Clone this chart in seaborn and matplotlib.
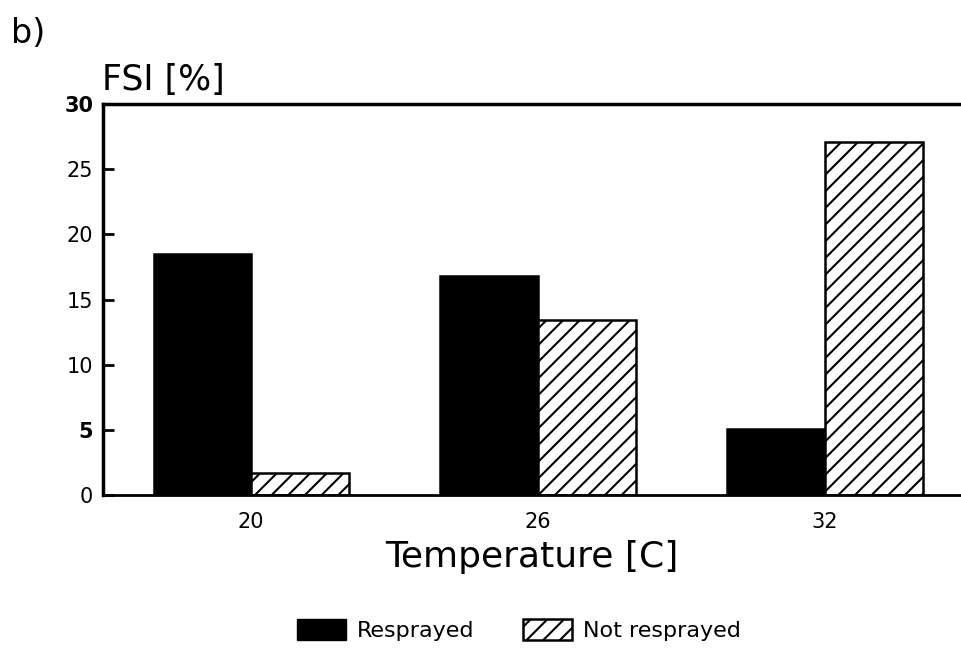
import matplotlib as mpl
mpl.use('agg')
import matplotlib.pyplot as plt
from matplotlib.patches import Patch
import numpy as np
import pandas as pd
import seaborn as sns

# Values
temperatures = ['20', '26', '32']
resprayed = [18.5, 16.8, 5.1]
not_resprayed = [1.7, 13.4, 27.1]
series = ['Resprayed', 'Not resprayed']
y_ticks = [0, 5, 10, 15, 20, 25, 30]

df = pd.DataFrame({
    'Temperature': temperatures * 2,
    'FSI': resprayed + not_resprayed,
    'Treatment': [series[0]] * 3 + [series[1]] * 3,
})

sns.set_style("ticks")
plt.rcParams['font.family'] = ['DejaVu Sans']
plt.rcParams['hatch.linewidth'] = 1.5
plt.rcParams['hatch.color'] = 'black'
for key in ('text.color', 'axes.labelcolor', 'xtick.color', 'ytick.color', 'axes.edgecolor'):
    plt.rcParams[key] = 'black'

fig = plt.figure(figsize=(9.61, 6.48), dpi=100)
ax = fig.add_axes([0.1072, 0.236, 0.8928, 0.6035])

sns.barplot(data=df, x='Temperature', y='FSI', hue='Treatment',
            palette=['black', 'white'], width=0.68, gap=0,
            edgecolor='black', linewidth=1.8, ax=ax, legend=False)

# hatch the "not resprayed" bars
for bar in ax.patches[3:6]:
    bar.set_hatch('//')

ax.set_xlim(-0.516, 2.474)
ax.set_ylim(0, 30)
ax.set_yticks(y_ticks)
ax.set_yticklabels([str(t) for t in y_ticks], fontsize=15)
for lab in ax.get_yticklabels():
    if lab.get_text() in ('30', '5'):
        lab.set_fontweight('bold')
ax.tick_params(axis='y', direction='in', length=8, width=2, pad=7)
ax.tick_params(axis='x', length=0, pad=12, labelsize=15)

ax.spines['right'].set_visible(False)
ax.spines['left'].set_linewidth(2.5)
ax.spines['top'].set_linewidth(2.5)
ax.spines['bottom'].set_linewidth(2)

ax.set_ylabel('')
ax.set_xlabel('Temperature [C]', fontsize=26, labelpad=6)

fig.text(0.011, 0.948, 'b)', fontsize=24, va='center', ha='left')
fig.text(0.106, 0.877, 'FSI [%]', fontsize=25, va='center', ha='left')

handles = [Patch(facecolor='black', edgecolor='black'),
           Patch(facecolor='white', edgecolor='black', hatch='//', linewidth=1.8)]
fig.legend(handles, series, loc='center', bbox_to_anchor=(0.54, 0.028),
           ncol=2, frameon=False, fontsize=16, handlelength=2.2, handleheight=1.1,
           columnspacing=2.2, handletextpad=0.5, borderpad=0)

plt.savefig('out.png', dpi=100)
